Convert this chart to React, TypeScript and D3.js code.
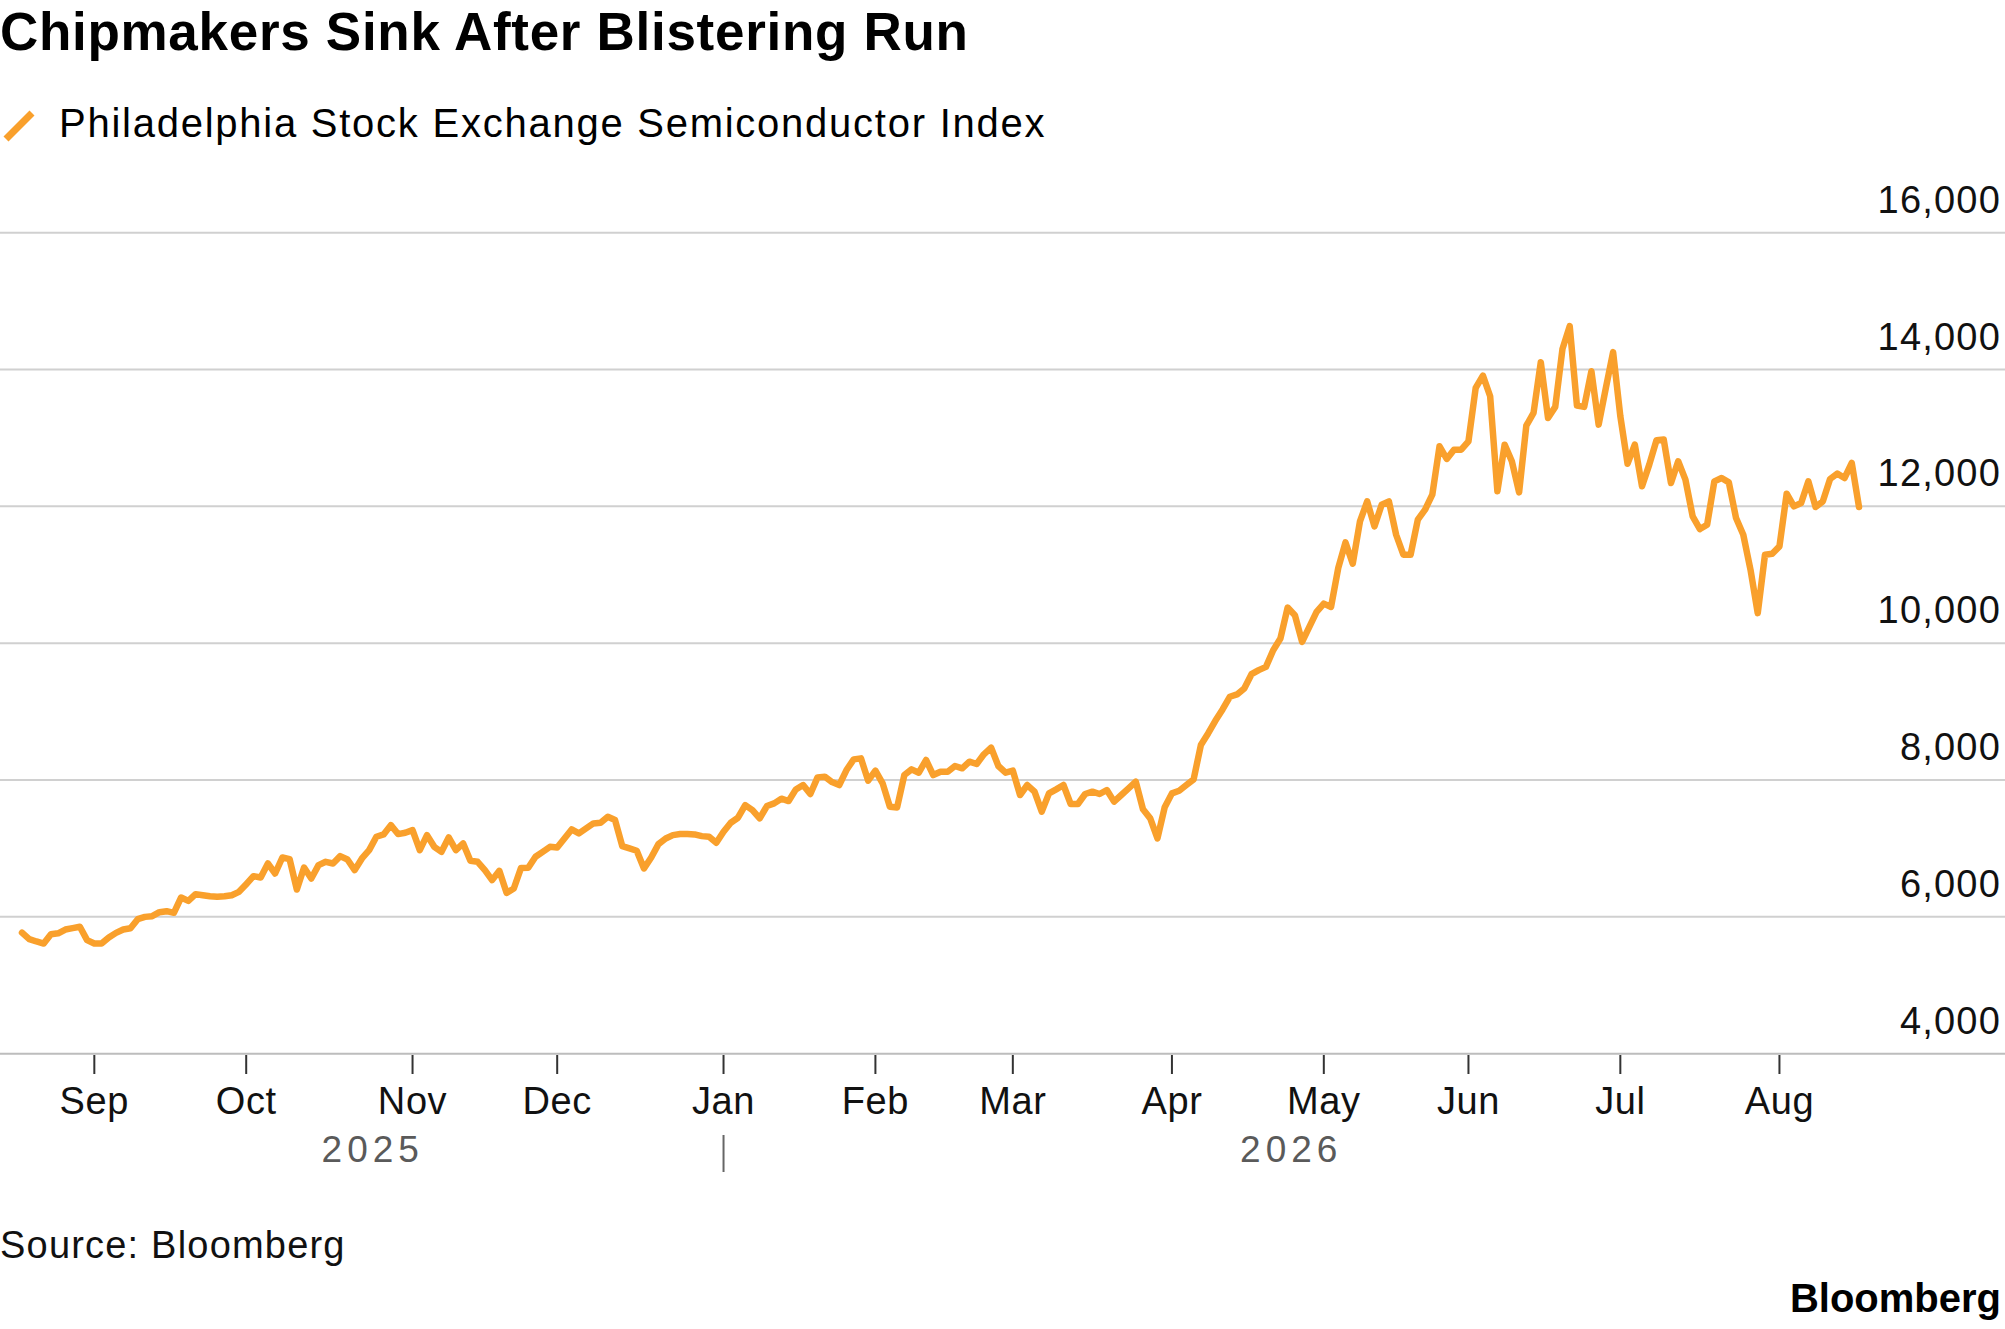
import React from "react";
import * as d3 from "d3";

// Daily closes of the Philadelphia Stock Exchange Semiconductor Index, grouped by month
const aug25 = [5770, 5675, 5640, 5610, 5745, 5760, 5815, 5835, 5855, 5660];
const sep25 = [5610, 5610, 5698, 5766, 5815, 5834, 5966, 6000, 6010, 6068, 6083, 6059, 6283, 6234, 6332, 6317, 6302, 6293, 6302, 6317, 6366];
const oct25 = [6478, 6595, 6575, 6780, 6634, 6868, 6844, 6400, 6722, 6561, 6756, 6805, 6780, 6888, 6839, 6683, 6854, 6976, 7171, 7205, 7341, 7210, 7229];
const nov25 = [7268, 6976, 7195, 7024, 6951, 7161, 6976, 7073, 6820, 6805, 6683, 6537, 6673, 6351, 6415, 6715, 6717, 6878, 6951, 7024];
const dec25 = [7015, 7146, 7278, 7220, 7293, 7366, 7376, 7463, 7415, 7034, 7000, 6966, 6707, 6868, 7063, 7146, 7195, 7210, 7210, 7205, 7180, 7171, 7083];
const jan26 = [7244, 7376, 7449, 7634, 7561, 7439, 7620, 7659, 7727, 7693, 7863, 7927, 7795, 8039, 8049, 7971, 7927, 8146, 8302, 8317, 7990];
const feb26 = [8137, 7951, 7610, 7600, 8073, 8156, 8107, 8293, 8073, 8122, 8122, 8205, 8171, 8268, 8234, 8376, 8473, 8205, 8107];
const mar26 = [8137, 7781, 7927, 7830, 7538, 7805, 7864, 7927, 7650, 7650, 7796, 7830, 7796, 7854, 7684, 7781, 7878, 7976, 7572, 7440, 7148, 7601];
const apr26 = [7805, 7844, 7927, 8010, 8511, 8681, 8866, 9032, 9217, 9251, 9338, 9547, 9606, 9654, 9898, 10068, 10521, 10409, 10019, 10238, 10457];
const may26 = [10579, 10530, 11100, 11473, 11161, 11780, 12073, 11707, 12024, 12073, 11585, 11293, 11293, 11805, 11951, 12171, 12878, 12693, 12829, 12829];
const jun26 = [12951, 13732, 13912, 13610, 12220, 12902, 12659, 12205, 13180, 13366, 14107, 13293, 13454, 14302, 14634, 13473, 13454, 13976, 13195, 13732, 14254];
const jul26 = [13317, 12624, 12902, 12293, 12610, 12966, 12976, 12341, 12659, 12390, 11854, 11668, 11732, 12366, 12415, 12351, 11829, 11585, 11073, 10439, 11293, 11307];
const aug26 = [11415, 12185, 12000, 12049, 12366, 11990, 12073, 12400, 12478, 12415, 12634, 11990];

const monthLabels = ["", "Sep", "Oct", "Nov", "Dec", "Jan", "Feb", "Mar", "Apr", "May", "Jun", "Jul", "Aug"];
const monthSeries = [aug25, sep25, oct25, nov25, dec25, jan26, feb26, mar26, apr26, may26, jun26, jul26, aug26];
const yearLabels = ["2025", "2026"];
const yTicks = [4000, 6000, 8000, 10000, 12000, 14000, 16000];

const TITLE = "Chipmakers Sink After Blistering Run";
const LEGEND = "Philadelphia Stock Exchange Semiconductor Index";
const SOURCE = "Source: Bloomberg";

const W = 2005;
const H = 1329;
const ORANGE = "#f9a02c";
const FONT = "'Liberation Sans', Arial, sans-serif";

export default function App() {
  const values: number[] = monthSeries.flat();
  const starts: number[] = [];
  let acc = 0;
  monthSeries.forEach((m) => {
    starts.push(acc);
    acc += m.length;
  });

  const x = d3.scaleLinear().domain([0, values.length - 1]).range([22, 1859]);
  const y = d3.scaleLinear().domain([4000, 16000]).range([1053.7, 232.7]);

  const line = d3
    .line<number>()
    .x((_, i) => x(i))
    .y((d) => y(d))
    .curve(d3.curveLinear);

  const fmt = d3.format(",");
  const janIdx = starts[5];
  const yearCenters = [
    (x.range()[0] + x(janIdx)) / 2,
    (x(janIdx) + x.range()[1]) / 2,
  ];

  return (
    <svg
      width={W}
      height={H}
      viewBox={`0 0 ${W} ${H}`}
      style={{ position: "absolute", left: 0, top: 0, background: "#fff" }}
      fontFamily={FONT}
    >
      <rect x={0} y={0} width={W} height={H} fill="#fff" />
      <text x={0} y={50} fontSize={53} fontWeight={700} fill="#000" letterSpacing={0.7}>
        {TITLE}
      </text>

      <line x1={6} y1={139} x2={32} y2={113} stroke={ORANGE} strokeWidth={7} />
      <text x={59} y={137} fontSize={40} fill="#000" letterSpacing={1.75}>
        {LEGEND}
      </text>

      {yTicks.map((t) => (
        <g key={t}>
          <line
            x1={0}
            x2={W}
            y1={y(t)}
            y2={y(t)}
            stroke={t === 4000 ? "#bdbdbd" : "#d0d0d0"}
            strokeWidth={2}
          />
          <text
            x={2001}
            y={y(t) - 20}
            fontSize={38}
            textAnchor="end"
            fill="#111"
            letterSpacing={1.2}
          >
            {fmt(t)}
          </text>
        </g>
      ))}

      {monthLabels.map((lab, i) =>
        lab ? (
          <g key={lab + i}>
            <line
              x1={x(starts[i])}
              x2={x(starts[i])}
              y1={1055}
              y2={1074}
              stroke="#333"
              strokeWidth={2}
            />
            <text
              x={x(starts[i])}
              y={1114}
              fontSize={38}
              textAnchor="middle"
              fill="#111"
              letterSpacing={0.6}
            >
              {lab}
            </text>
          </g>
        ) : null
      )}

      <line x1={x(janIdx)} x2={x(janIdx)} y1={1135} y2={1172} stroke="#666" strokeWidth={2} />
      {yearLabels.map((yl, i) => (
        <text
          key={yl}
          x={yearCenters[i]}
          y={1162}
          fontSize={37}
          textAnchor="middle"
          fill="#5a5a5a"
          letterSpacing={5}
        >
          {yl}
        </text>
      ))}

      <path
        d={line(values) || ""}
        fill="none"
        stroke={ORANGE}
        strokeWidth={6.5}
        strokeLinejoin="round"
        strokeLinecap="round"
      />

      <text x={0} y={1258} fontSize={38} fill="#111" letterSpacing={1.2}>
        {SOURCE}
      </text>
      <text x={2001} y={1312} fontSize={40} fontWeight={700} textAnchor="end" fill="#000">
        Bloomberg
      </text>
    </svg>
  );
}
